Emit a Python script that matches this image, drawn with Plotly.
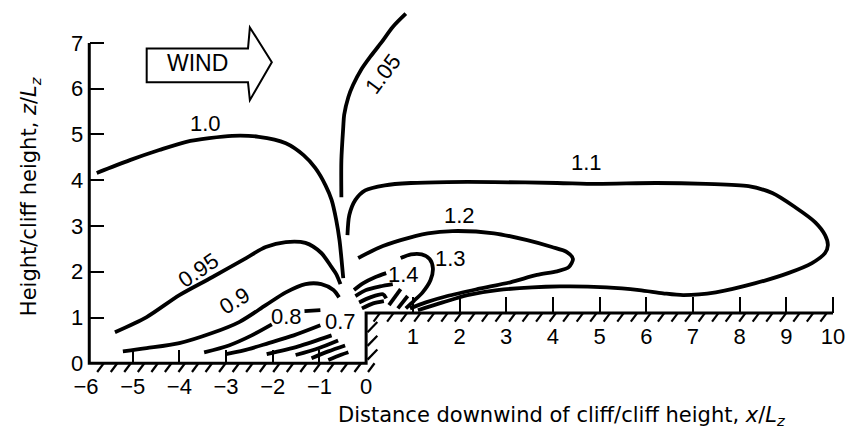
import numpy as np
import plotly.graph_objects as go

# ---------------- data ----------------
# contour 1.0
C100_X = [-5.77, -5.06, -4.43, -3.85, -3.36, -2.87, -2.30, -1.72, -1.34, -1.09, -0.87, -0.74, -0.64, -0.57, -0.53, -0.49]
C100_Y = [4.16, 4.44, 4.66, 4.84, 4.92, 4.97, 4.95, 4.81, 4.55, 4.27, 3.89, 3.57, 3.13, 2.69, 2.30, 1.86]
# contour 1.05
C105_X = [0.85, 0.57, 0.32, 0.09, -0.11, -0.28, -0.38, -0.47, -0.49, -0.53, -0.53]
C105_Y = [7.64, 7.35, 7.00, 6.70, 6.41, 6.08, 5.82, 5.43, 5.16, 4.44, 3.63]
# contour 1.1
C110_X = [-0.40, -0.36, -0.23, -0.02, 0.40, 0.96, 1.74, 2.74, 4.09, 4.94, 6.21, 7.28, 8.19, 8.70, 9.19, 9.62,
          9.83, 9.89, 9.83, 9.55, 9.04, 8.34, 7.49, 6.79, 6.36, 5.85, 5.15, 4.15, 2.81, 2.17, 1.64, 1.11]
C110_Y = [2.80, 3.24, 3.57, 3.78, 3.89, 3.94, 3.96, 3.96, 3.94, 3.92, 3.94, 3.92, 3.87, 3.72, 3.41, 3.08,
          2.80, 2.58, 2.41, 2.19, 1.97, 1.75, 1.55, 1.49, 1.53, 1.60, 1.66, 1.68, 1.60, 1.49, 1.33, 1.16]
# contour 1.2
C120_X = [-0.17, 0.26, 0.74, 1.32, 1.85, 2.74, 3.45, 3.98, 4.30, 4.43, 4.34, 4.09, 3.66, 3.09, 2.38, 1.74, 1.28, 0.94]
C120_Y = [2.30, 2.52, 2.69, 2.84, 2.89, 2.84, 2.69, 2.54, 2.43, 2.28, 2.10, 2.01, 1.93, 1.77, 1.62, 1.47, 1.33, 1.20]
# contour 1.3
C130_X = [0.74, 0.96, 1.19, 1.36, 1.43, 1.38, 1.21, 1.02, 0.85]
C130_Y = [2.30, 2.38, 2.38, 2.28, 2.08, 1.82, 1.55, 1.36, 1.20]
# contour 0.95
C095_X = [-5.38, -4.70, -4.00, -3.30, -2.57, -2.15, -1.72, -1.30, -0.96, -0.74, -0.64, -0.55]
C095_Y = [0.68, 1.01, 1.49, 1.88, 2.30, 2.54, 2.65, 2.63, 2.41, 2.10, 1.95, 1.73]
# contour 0.9
C090_X = [-5.21, -4.70, -4.00, -3.30, -2.72, -2.15, -1.72, -1.30, -0.96, -0.70, -0.58]
C090_Y = [0.26, 0.33, 0.44, 0.66, 0.90, 1.27, 1.55, 1.73, 1.73, 1.60, 1.44]
# contour 0.8 (broken by its label)
C080A_X = [-3.47, -2.94, -2.45, -2.02]
C080A_Y = [0.24, 0.39, 0.61, 0.85]
C080B_X = [-1.32, -0.98]
C080B_Y = [1.14, 1.16]
# contour 0.7
C070_X = [-3.00, -2.62, -2.09, -1.55, -0.98]
C070_Y = [0.20, 0.28, 0.44, 0.61, 0.83]
# unlabelled low-speed contours at the cliff foot
U1_X = [-2.13, -1.45, -0.74]; U1_Y = [0.20, 0.37, 0.61]
U2_X = [-1.51, -1.02, -0.60]; U2_Y = [0.18, 0.33, 0.50]
U3_X = [-1.17, -0.81, -0.45]; U3_Y = [0.11, 0.26, 0.39]
U4_X = [-0.81, -0.55, -0.38]; U4_Y = [0.07, 0.18, 0.24]
# 1.4 and higher speed-up contours at the cliff edge
D1_X = [-0.26, -0.06, 0.19, 0.43]; D1_Y = [1.60, 1.75, 1.88, 1.97]
D2_X = [-0.23, 0.00, 0.30, 0.57]; D2_Y = [1.47, 1.60, 1.68, 1.73]
D3_X = [-0.15, 0.09, 0.36, 0.43]; D3_Y = [1.33, 1.44, 1.51, 1.42]
D4_X = [-0.09, 0.15, 0.38]; D4_Y = [1.20, 1.31, 1.36]
S1_X = [0.49, 0.74]; S1_Y = [1.27, 1.62]
S2_X = [0.68, 0.89]; S2_Y = [1.20, 1.47]

# contour labels
LABEL_TEXT = ["1.0", "1.05", "1.1", "1.2", "1.3", "1.4", "0.95", "0.9", "0.8", "0.7"]
LABEL_X = [-3.43, 0.36, 4.72, 2.00, 1.81, 0.79, -3.60, -2.81, -1.70, -0.55]
LABEL_Y = [5.25, 6.34, 4.38, 3.24, 2.28, 1.95, 2.03, 1.38, 1.03, 0.92]
LABEL_ANGLE = [0, -53, 0, 0, 0, 0, -34, -32, 0, 0]

# ticks
UP_TICKS = [-6, -5, -4, -3, -2, -1, 0]
UP_LABELS = ["\u22126", "\u22125", "\u22124", "\u22123", "\u22122", "\u22121", "0"]
DOWN_TICKS = [1, 2, 3, 4, 5, 6, 7, 8, 9, 10]
DOWN_LABELS = ["1", "2", "3", "4", "5", "6", "7", "8", "9", "10"]
Y_TICKS = [0, 1, 2, 3, 4, 5, 6, 7]
Y_LABELS = ["0", "1", "2", "3", "4", "5", "6", "7"]

CLIFF_TOP = 1.1

# ---------------- figure ----------------
X_MIN, X_MAX = -6.0, 10.15
Y_MIN, Y_MAX = -0.3, 7.83
AXIS_X = -5.93
NUM_FONT = dict(family="Liberation Sans, Arial, sans-serif", size=22, color="black")
TITLE_FONT = dict(family="DejaVu Sans, sans-serif", size=21, color="black")

fig = go.Figure()

curve = dict(color="black", width=3.8, shape="spline", smoothing=0.8)
contours = [
    (C100_X, C100_Y), (C105_X, C105_Y), (C110_X, C110_Y), (C120_X, C120_Y), (C130_X, C130_Y),
    (C095_X, C095_Y), (C090_X, C090_Y), (C080A_X, C080A_Y), (C080B_X, C080B_Y), (C070_X, C070_Y),
    (U1_X, U1_Y), (U2_X, U2_Y), (U3_X, U3_Y), (U4_X, U4_Y),
    (D1_X, D1_Y), (D2_X, D2_Y), (D3_X, D3_Y), (D4_X, D4_Y), (S1_X, S1_Y), (S2_X, S2_Y),
]
for xs, ys in contours:
    fig.add_trace(go.Scatter(x=xs, y=ys, mode="lines", line=curve,
                             hoverinfo="skip", showlegend=False))

# ground profile and vertical axis line
fig.add_trace(go.Scatter(x=[AXIS_X, AXIS_X, 0, 0, 10], y=[7, 0, 0, CLIFF_TOP, CLIFF_TOP],
                         mode="lines", line=dict(color="black", width=3),
                         hoverinfo="skip", showlegend=False))

# ground hatching
hx, hy = [], []
for x0 in np.arange(-5.62, 0.2, 0.29):
    hx += [x0, x0 - 0.14, None]
    hy += [0, -0.19, None]
for x0 in np.arange(0.3, 10.1, 0.29):
    hx += [x0, x0 - 0.14, None]
    hy += [CLIFF_TOP, CLIFF_TOP - 0.19, None]
for y0 in np.arange(0.08, CLIFF_TOP - 0.15, 0.3):
    hx += [0.03, 0.24, None]
    hy += [y0, y0 + 0.22, None]
fig.add_trace(go.Scatter(x=hx, y=hy, mode="lines", line=dict(color="black", width=2.2),
                         hoverinfo="skip", showlegend=False))

# invisible trace to carry the downstream axis
fig.add_trace(go.Scatter(x=[X_MIN], y=[Y_MIN], xaxis="x2", mode="markers",
                         marker=dict(opacity=0), hoverinfo="skip", showlegend=False))

# WIND arrow
ax = [-4.70, -2.53, -2.49, -2.02, -2.49, -2.53, -4.70]
ay = [6.88, 6.88, 7.34, 6.58, 5.75, 6.14, 6.14]
path = "M " + " L ".join(f"{a},{b}" for a, b in zip(ax, ay)) + " Z"
fig.add_shape(type="path", path=path, xref="x", yref="y",
              line=dict(color="black", width=2), fillcolor="white")
fig.add_annotation(x=-3.62, y=6.56, xref="x", yref="y", text="WIND", showarrow=False,
                   font=dict(family="Liberation Sans, Arial, sans-serif", size=23, color="black"))

for t, x, y, a in zip(LABEL_TEXT, LABEL_X, LABEL_Y, LABEL_ANGLE):
    fig.add_annotation(x=x, y=y, xref="x", yref="y", text=t, textangle=a,
                       showarrow=False, font=NUM_FONT)

# axis titles
fig.add_annotation(x=0.631, y=-0.105, xref="paper", yref="paper", yanchor="middle",
                   text="Distance downwind of cliff/cliff height, <i>x</i>/<i>L<sub>z</sub></i>",
                   showarrow=False, font=TITLE_FONT)
fig.add_annotation(x=-0.074, y=0.484, xref="paper", yref="paper", xanchor="center",
                   text="Height/cliff height, <i>z</i>/<i>L<sub>z</sub></i>", textangle=-90,
                   showarrow=False, font=TITLE_FONT)

tick_common = dict(ticks="inside", tickwidth=2, tickcolor="black", showline=False,
                   showgrid=False, zeroline=False, tickfont=NUM_FONT, fixedrange=True,
                   ticklabeloverflow="allow")

fig.update_layout(
    width=849, height=434,
    margin=dict(l=86, r=4, t=5, b=57),
    paper_bgcolor="white", plot_bgcolor="white", showlegend=False,
    xaxis=dict(range=[X_MIN, X_MAX], anchor="free",
               position=(0 - Y_MIN) / (Y_MAX - Y_MIN),
               tickvals=UP_TICKS, ticktext=UP_LABELS, ticklen=13,
               ticklabelstandoff=8, **tick_common),
    xaxis2=dict(range=[X_MIN, X_MAX], overlaying="x", anchor="free", side="bottom",
                position=(CLIFF_TOP - Y_MIN) / (Y_MAX - Y_MIN),
                tickvals=DOWN_TICKS, ticktext=DOWN_LABELS, ticklen=16,
                ticklabelstandoff=8, **tick_common),
    yaxis=dict(range=[Y_MIN, Y_MAX], anchor="free",
               position=(AXIS_X - X_MIN) / (X_MAX - X_MIN),
               tickvals=Y_TICKS, ticktext=Y_LABELS, ticklen=14,
               ticklabelstandoff=6, **tick_common),
)

fig.write_html("out.html")
